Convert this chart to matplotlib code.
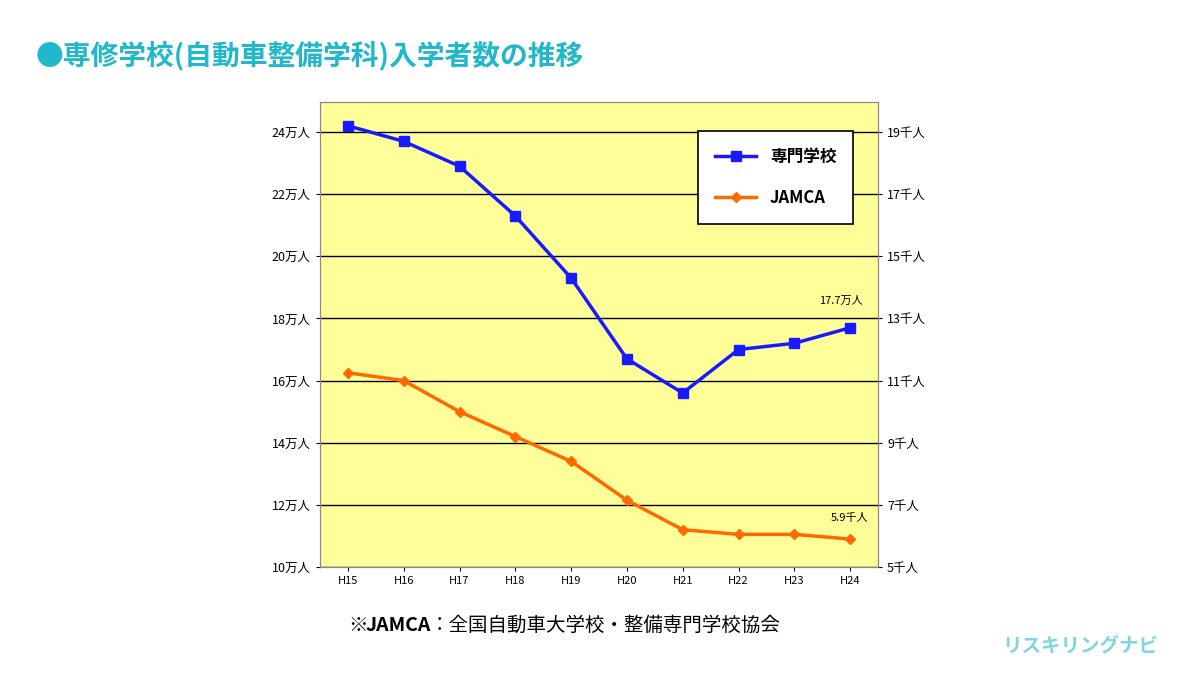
import matplotlib.pyplot as plt

plt.rcParams['font.family'] = ['Noto Sans CJK JP', 'DejaVu Sans']

years = ["H15", "H16", "H17", "H18", "H19", "H20", "H21", "H22", "H23", "H24"]
senmon = [24.2, 23.7, 22.9, 21.3, 19.3, 16.7, 15.6, 17.0, 17.2, 17.7]   # 万人
jamca = [11.25, 11.0, 10.0, 9.2, 8.4, 7.15, 6.2, 6.05, 6.05, 5.9]       # 千人
left_ticks = [10, 12, 14, 16, 18, 20, 22, 24]
right_ticks = [5, 7, 9, 11, 13, 15, 17, 19]

fig = plt.figure(figsize=(12, 6.75), dpi=100)
fig.patch.set_facecolor("white")
ax = fig.add_axes([320 / 1200, 1 - 567 / 675, 558 / 1200, 465 / 675])
ax.set_facecolor("#FFFF99")
ax2 = ax.twinx()

x = list(range(len(years)))
l1, = ax.plot(x, senmon, color="#1A1AFF", lw=2.5, marker="s", ms=7, label="専門学校")
l2, = ax2.plot(x, jamca, color="#FF6A00", lw=2.5, marker="D", ms=5.5, label="JAMCA")

ax.set_xlim(-0.5, 9.5)
ax.set_ylim(10, 10 + 465 / 31.07)
ax2.set_ylim(5, 5 + 465 / 31.07)
ax.set_yticks(left_ticks)
ax.set_yticklabels([f"{v}万人" for v in left_ticks], fontsize=9)
ax2.set_yticks(right_ticks)
ax2.set_yticklabels([f"{v}千人" for v in right_ticks], fontsize=9)
ax.set_xticks(x)
ax.set_xticklabels(years, fontsize=8)
ax.grid(axis="y", color="black", lw=1)
ax.set_axisbelow(True)
for a in (ax, ax2):
    for s in a.spines.values():
        s.set_color("#888888")
    a.tick_params(length=3, colors="black")

ax.annotate("17.7万人", (9, senmon[-1]), xytext=(-22, 17), textcoords="offset points", fontsize=8)
ax2.annotate("5.9千人", (9, jamca[-1]), xytext=(-14, 13), textcoords="offset points", fontsize=8)

leg = ax2.legend(handles=[l1, l2], loc="upper right", bbox_to_anchor=(0.97, 0.955),
                 fontsize=12, frameon=True, fancybox=False, edgecolor="black", framealpha=1,
                 borderpad=1.0, labelspacing=1.4, handlelength=2.5)
leg.get_frame().set_facecolor("white")
leg.get_frame().set_linewidth(1.2)
for t in leg.get_texts():
    t.set_fontweight("bold")

fig.text(0.03, 0.905, "●専修学校(自動車整備学科)入学者数の推移", fontsize=20, fontweight="bold", color="#22B8CC")
fig.text(0.29, 0.065, "※", fontsize=14, color="black")
fig.text(0.305, 0.065, "JAMCA", fontsize=14, color="black", fontweight="bold")
fig.text(0.358, 0.065, "：全国自動車大学校・整備専門学校協会", fontsize=14, color="black")
fig.text(0.965, 0.035, "リスキリングナビ", fontsize=14, ha="right", color="#7FD6E0", fontweight="bold")

fig.savefig("out.png", dpi=100)
